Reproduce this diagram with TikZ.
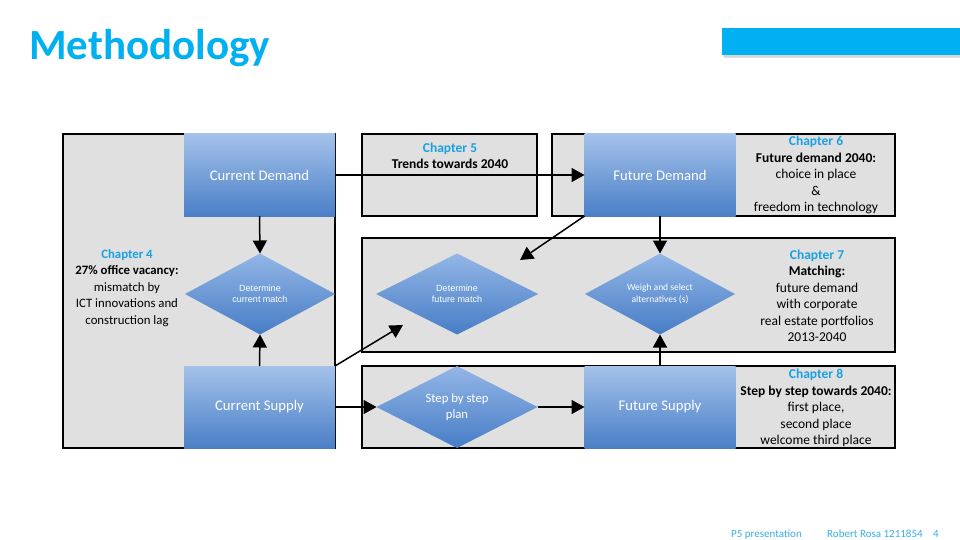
\documentclass[tikz,border=0pt]{standalone}
\usepackage{fontspec}
\setmainfont{Carlito}
\newfontfamily\arialf{Liberation Sans}
\usetikzlibrary{shapes.geometric,arrows.meta,positioning}
\definecolor{titleblue}{HTML}{00B0F0}
\definecolor{chapblue}{HTML}{1BA1E2}
\definecolor{boxgray}{HTML}{E0E0E0}
\definecolor{gradtop}{HTML}{A4C2EA}
\definecolor{gradbot}{HTML}{4A7FC7}
\definecolor{dtop}{HTML}{93B6E6}
\definecolor{dbot}{HTML}{477DC6}
\definecolor{footblue}{HTML}{3AAFE4}
\tikzset{
  chapbox/.style={draw=black, line width=1.3pt, fill=boxgray, rectangle, inner sep=0pt, outer sep=0pt},
  bluebox/.style={rectangle, inner sep=0pt, outer sep=0pt, top color=gradtop, bottom color=gradbot,
    text=white, font=\fontsize{14.7}{17}\selectfont, minimum width=151pt, minimum height=82pt},
  decide/.style={diamond, aspect=1.85, inner sep=0pt, outer sep=0pt, top color=dtop, bottom color=dbot,
    text=white, align=center},
  chaptext/.style={align=center, font=\fontsize{13.5}{16.5}\selectfont, inner sep=0pt},
  arr/.style={line width=1.5pt, -{Triangle[length=13pt,width=14pt]}},
  foot/.style={anchor=base west, inner sep=0pt, text=footblue, font=\fontsize{11}{12}\selectfont},
}
\begin{document}
\begin{tikzpicture}[x=1pt,y=-1pt]
\useasboundingbox (0,0) rectangle (960,540);
\fill[white] (0,0) rectangle (960,540);
% title
\node[anchor=base west, inner sep=0pt, text=titleblue, font=\fontsize{43}{48}\selectfont\bfseries] (title) at (29,60) {Methodology};
% top right bar with shadow
\fill[black!25, opacity=0.5] (724,30) rectangle (960,58);
\fill[black!20, opacity=0.4] (723,29) rectangle (960,57);
\fill[titleblue] (722,28) rectangle (960,55);
% chapter boxes
\node[chapbox, minimum width=272pt, minimum height=314pt] (ch4) at (199,291) {};
\node[chapbox, minimum width=175pt, minimum height=82pt] (ch5) at (449.5,175) {};
\node[chapbox, minimum width=343pt, minimum height=82pt] (ch6) at (723.5,175) {};
\node[chapbox, minimum width=533pt, minimum height=114pt] (ch7) at (628.5,295) {};
\node[chapbox, minimum width=533pt, minimum height=82pt] (ch8) at (628.5,407) {};
% blue boxes
\node[bluebox] (cd) at (259.5,175) {Current Demand};
\node[bluebox] (cs) at (259.5,407) {Current Supply};
\node[bluebox] (fd) at (660,175) {Future Demand};
\node[bluebox] (fs) at (660,407) {Future Supply};
% diamonds
\node[decide, minimum width=150pt, minimum height=81pt, font=\arialf\fontsize{9}{11}\selectfont] (dcm) at (260,294) {Determine\\current match};
\node[decide, minimum width=162pt, minimum height=81pt, font=\arialf\fontsize{9}{11}\selectfont] (dfm) at (457,294) {Determine\\future match};
\node[decide, minimum width=150pt, minimum height=81pt, font=\fontsize{9.5}{12}\selectfont] (wsa) at (660,294) {Weigh and select\\alternatives (s)};
\node[decide, minimum width=161pt, minimum height=82pt, font=\fontsize{12.7}{16}\selectfont] (sbs) at (457,407) {Step by step\\plan};
% chapter texts
\node[chaptext, font=\fontsize{12.8}{16.5}\selectfont] (t4) at (127,288) {\textcolor{chapblue}{\textbf{Chapter 4}}\\\textbf{27\% office vacancy:}\\mismatch by\\ICT innovations and\\construction lag};
\node[chaptext] (t5) at (450,156) {\textcolor{chapblue}{\textbf{Chapter 5}}\\\textbf{Trends towards 2040}};
\node[chaptext] (t6) at (816,175) {\textcolor{chapblue}{\textbf{Chapter 6}}\\\textbf{Future demand 2040:}\\choice in place\\\&\\freedom in technology};
\node[chaptext] (t7) at (817,296) {\textcolor{chapblue}{\textbf{Chapter 7}}\\\textbf{Matching:}\\future demand\\with corporate\\real estate portfolios\\2013-2040};
\node[chaptext] (t8) at (816,408) {\textcolor{chapblue}{\textbf{Chapter 8}}\\\textbf{Step by step towards 2040:}\\first place,\\second place\\welcome third place};
% free ends
\coordinate (e1) at (520,260);
\coordinate (e2) at (403,325);
% arrows
\draw[arr] (cd.south) -- (dcm.north);
\draw[arr] (cs.north) -- (dcm.south);
\draw[arr] (cd.east) -- (fd.west);
\draw[arr] (fd.south) -- (wsa.north);
\draw[arr] (fs.north) -- (wsa.south);
\draw[arr] (fd.south west) -- (e1);
\draw[arr] (cs.north east) -- (e2);
\draw[arr] (cs.east) -- (sbs.west);
\draw[arr] (sbs.east) -- (fs.west);
% footer
\node[foot] (f1) at (731,537) {P5 presentation};
\node[foot] (f2) at (827,537) {Robert Rosa 1211854};
\node[foot] (f3) at (933,537) {4};
\end{tikzpicture}
\end{document}
